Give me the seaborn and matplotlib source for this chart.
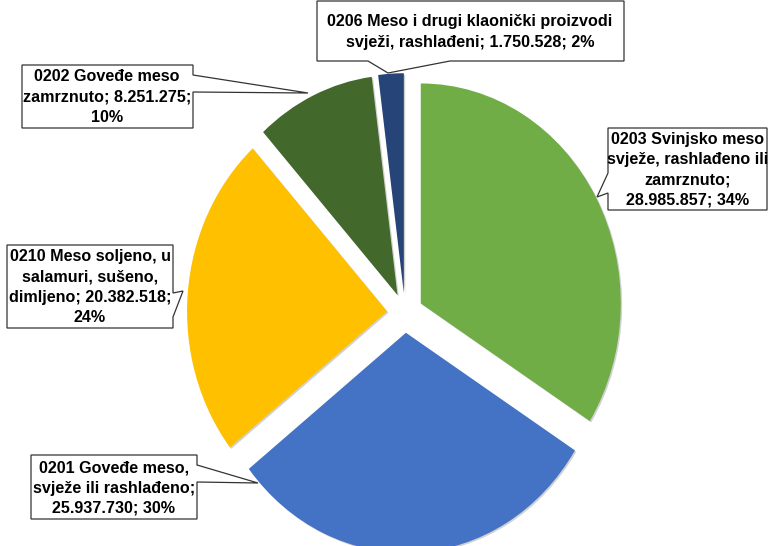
import matplotlib
matplotlib.use("Agg")
import matplotlib.pyplot as plt
import matplotlib.patheffects as pe
from matplotlib.patches import Polygon
import seaborn as sns

# slices, clockwise from 12 o'clock
codes = ["0203", "0201", "0210", "0202", "0206"]
names = [
    "Svinjsko meso\nsvježe, rashlađeno ili\nzamrznuto",
    "Goveđe meso,\nsvježe ili rashlađeno",
    "Meso soljeno, u\nsalamuri, sušeno,\ndimljeno",
    "Goveđe meso\nzamrznuto",
    "Meso i drugi klaonički proizvodi\nsvježi, rashlađeni",
]
values = [28985857, 25937730, 20382518, 8251275, 1750528]
colors = ["#70AD47", "#4472C4", "#FFC000", "#43682B", "#264478"]
# where each label wraps
formats = [
    "{name};\n{val}; {pct}%",
    "{name};\n{val}; {pct}%",
    "{name}; {val};\n{pct}%",
    "{name}; {val};\n{pct}%",
    "{name}; {val}; {pct}%",
]

# callout shapes in pixels (from top-left of the 770x546 image)
callouts = [
    [(608, 128), (767, 128), (767, 210), (608, 210), (608, 193), (597, 197), (608, 173)],
    [(31, 455), (197, 455), (197, 465), (258, 483), (197, 482), (197, 519), (31, 519)],
    [(7, 245), (173, 245), (173, 293), (183, 291), (173, 317), (173, 328), (7, 328)],
    [(22, 65), (193, 65), (193, 75), (308, 93), (193, 92), (193, 128), (22, 128)],
    [(317, 1), (624, 1), (624, 61), (450, 61), (388, 73), (368, 61), (317, 61)],
]
text_centers = [(688, 170), (114, 488), (90, 287), (107, 97), (470, 32)]

W, H = 770, 546
sns.set_theme(style="white")
plt.rcParams["font.family"] = ["Liberation Sans", "DejaVu Sans"]

fig = plt.figure(figsize=(W / 100, H / 100), dpi=100)
ax = fig.add_axes([0, 0, 1, 1])

wedges, _ = ax.pie(values, colors=colors, startangle=90, counterclock=False,
                   explode=[0.09] * len(values), radius=1,
                   wedgeprops=dict(linewidth=0))
# soft-ish shadow like the Excel original
for w in wedges:
    w.set_path_effects([pe.SimplePatchShadow(offset=(1, -1), shadow_rgbFace="black", alpha=0.18),
                        pe.Normal()])

# slightly stretched vertically, like the source
cx, cy, rx, ry = 405, 313, 200, 220
ax.set_aspect("auto")
ax.set_xlim(-cx / rx, (W - cx) / rx)
ax.set_ylim(-(H - cy) / ry, cy / ry)
ax.axis("off")

total = sum(values)
def px(p):
    return (p[0] / W, 1 - p[1] / H)

for code, name, v, fmt, shape, tc in zip(codes, names, values, formats, callouts, text_centers):
    val = f"{v:,}".replace(",", ".")
    pct = round(100 * v / total)
    label = fmt.format(name=f"{code} {name}", val=val, pct=pct)
    ax.add_patch(Polygon([px(p) for p in shape], closed=True, transform=ax.transAxes,
                         facecolor="white", edgecolor="#333333", linewidth=0.9, zorder=5))
    x, y = px(tc)
    ax.text(x, y, label, transform=ax.transAxes, ha="center", va="center",
            fontsize=11.6, fontweight="bold", color="black", linespacing=1.42, zorder=6)

plt.savefig("out.png", dpi=100)
